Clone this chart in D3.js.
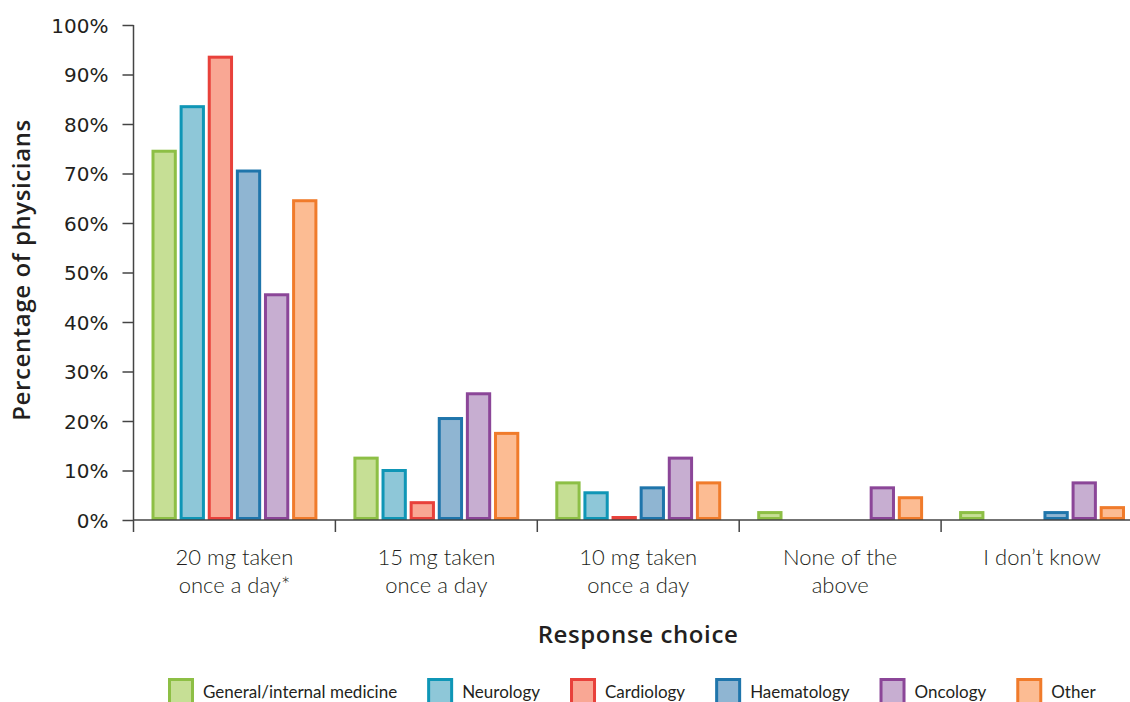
<!DOCTYPE html>
<html>
<head>
<meta charset="utf-8">
<script src="https://cdn.jsdelivr.net/npm/d3@7/dist/d3.min.js"></script>
<style>
  html, body { margin: 0; padding: 0; background: #fff; }
  svg { display: block; }
  text { fill: #231f20; }
</style>
</head>
<body>
<svg id="chart" width="1130" height="702"></svg>
<script>
// Response choices (x-axis groups), each label split over two lines
const categories = [
  ["20 mg taken", "once a day*"],
  ["15 mg taken", "once a day"],
  ["10 mg taken", "once a day"],
  ["None of the", "above"],
  ["I don\u2019t know", ""]
];

// Physician specialties (one bar per specialty in every group)
const specialties = ["General/internal medicine", "Neurology", "Cardiology", "Haematology", "Oncology", "Other"];

// Percentage of physicians choosing each response, per specialty
const generalMedicine = [74.5, 12.5, 7.5, 1.5, 1.5];
const neurology       = [83.5, 10, 5.5, 0, 0];
const cardiology      = [93.5, 3.5, 0.5, 0, 0];
const haematology     = [70.5, 20.5, 6.5, 0, 1.5];
const oncology        = [45.5, 25.5, 12.5, 6.5, 7.5];
const other           = [64.5, 17.5, 7.5, 4.5, 2.5];

const yTicks = [0, 10, 20, 30, 40, 50, 60, 70, 80, 90, 100];

const strokeColors = ["#8dbf45", "#0f96b6", "#e8413b", "#1f75ab", "#8b4698", "#f07b2b"];
const fillColors   = ["#c6df95", "#8ec7d8", "#f9a794", "#8fb5d2", "#c7aed1", "#fcbc93"];

const seriesValues = [generalMedicine, neurology, cardiology, haematology, oncology, other];

const svg = d3.select("#chart");
const margin = { left: 133.5, top: 25, right: -13, bottom: 182 };
const width = 1130 - margin.left - margin.right;
const height = 702 - margin.top - margin.bottom;

const g = svg.append("g").attr("transform", `translate(${margin.left},${margin.top})`);

const x0 = d3.scaleBand()
  .domain(d3.range(categories.length))
  .range([0, width])
  .paddingInner(0)
  .paddingOuter(0);

const x1 = d3.scaleBand()
  .domain(d3.range(specialties.length))
  .range([18, x0.bandwidth() - 18])
  .paddingInner(0.1)
  .paddingOuter(0);

const y = d3.scaleLinear().domain([0, 100]).range([height, 0]);

// Bars
const sw = 3;
const groups = g.selectAll("g.group")
  .data(categories.map((c, i) => i))
  .join("g")
  .attr("class", "group")
  .attr("transform", i => `translate(${x0(i)},0)`);

groups.selectAll("rect")
  .data(i => specialties.map((s, k) => ({ k, v: seriesValues[k][i] })).filter(d => d.v > 0))
  .join("rect")
  .attr("x", d => x1(d.k) + sw / 2)
  .attr("width", x1.bandwidth() - sw)
  .attr("y", d => y(d.v))
  .attr("height", d => Math.max(0, y(0) - y(d.v) - sw / 2))
  .attr("fill", d => fillColors[d.k])
  .attr("stroke", d => strokeColors[d.k])
  .attr("stroke-width", sw);

// Y axis
const yAxis = g.append("g")
  .call(d3.axisLeft(y).tickValues(yTicks).tickFormat(d => d + "%").tickSize(11).tickPadding(14));
yAxis.select(".domain").remove();
yAxis.selectAll(".tick line").attr("stroke", "#444").attr("stroke-width", 1.5);
yAxis.selectAll(".tick text")
  .style("font-family", "'DejaVu Sans', sans-serif")
  .style("font-size", "20px")
  .style("fill", "#231f20")
  .attr("dy", "0.35em");

g.append("line")
  .attr("x1", 0).attr("x2", 0)
  .attr("y1", 0).attr("y2", height + 12)
  .attr("stroke", "#444").attr("stroke-width", 1.5);

// X baseline and group separators
g.append("line")
  .attr("x1", 0).attr("x2", width)
  .attr("y1", y(0)).attr("y2", y(0))
  .attr("stroke", "#444").attr("stroke-width", 1.5);

g.selectAll("line.sep")
  .data(d3.range(1, categories.length + 1))
  .join("line")
  .attr("class", "sep")
  .attr("x1", i => x0.step() * i).attr("x2", i => x0.step() * i)
  .attr("y1", y(0)).attr("y2", y(0) + 12)
  .attr("stroke", "#444").attr("stroke-width", 1.5);

// Category labels
const catLabels = g.selectAll("text.cat")
  .data(categories)
  .join("text")
  .attr("class", "cat")
  .attr("text-anchor", "middle")
  .style("font-family", "Lato, sans-serif")
  .style("font-size", "22px")
  .style("font-weight", 300)
  .attr("transform", (c, i) => `translate(${x0(i) + x0.bandwidth() / 2},${height + 45})`);
catLabels.selectAll("tspan")
  .data(c => c)
  .join("tspan")
  .attr("x", 0)
  .attr("dy", (d, j) => j === 0 ? 0 : 28)
  .text(d => d);

// Axis titles
svg.append("text")
  .attr("x", 638).attr("y", 643)
  .attr("text-anchor", "middle")
  .style("font-family", "'Open Sans', sans-serif")
  .style("font-size", "24px")
  .style("letter-spacing", "0.6px")
  .style("font-weight", 600)
  .text("Response choice");

svg.append("text")
  .attr("transform", "translate(30,270) rotate(-90)")
  .attr("text-anchor", "middle")
  .style("font-family", "'Open Sans', sans-serif")
  .style("font-size", "24px")
  .style("letter-spacing", "0.6px")
  .style("font-weight", 600)
  .text("Percentage of physicians");

// Legend
const legend = svg.append("g").attr("transform", "translate(168,678)");
let lx = 0;
specialties.forEach((s, k) => {
  const item = legend.append("g").attr("transform", `translate(${lx},0)`);
  item.append("rect")
    .attr("x", 1.5).attr("y", 1.5)
    .attr("width", 23).attr("height", 24)
    .attr("fill", fillColors[k])
    .attr("stroke", strokeColors[k])
    .attr("stroke-width", 3);
  const t = item.append("text")
    .attr("x", 35).attr("y", 20)
    .style("font-family", "Lato, sans-serif")
    .style("font-size", "17px")
    .text(s);
  lx += 35 + t.node().getComputedTextLength() + 30;
});
</script>
</body>
</html>
